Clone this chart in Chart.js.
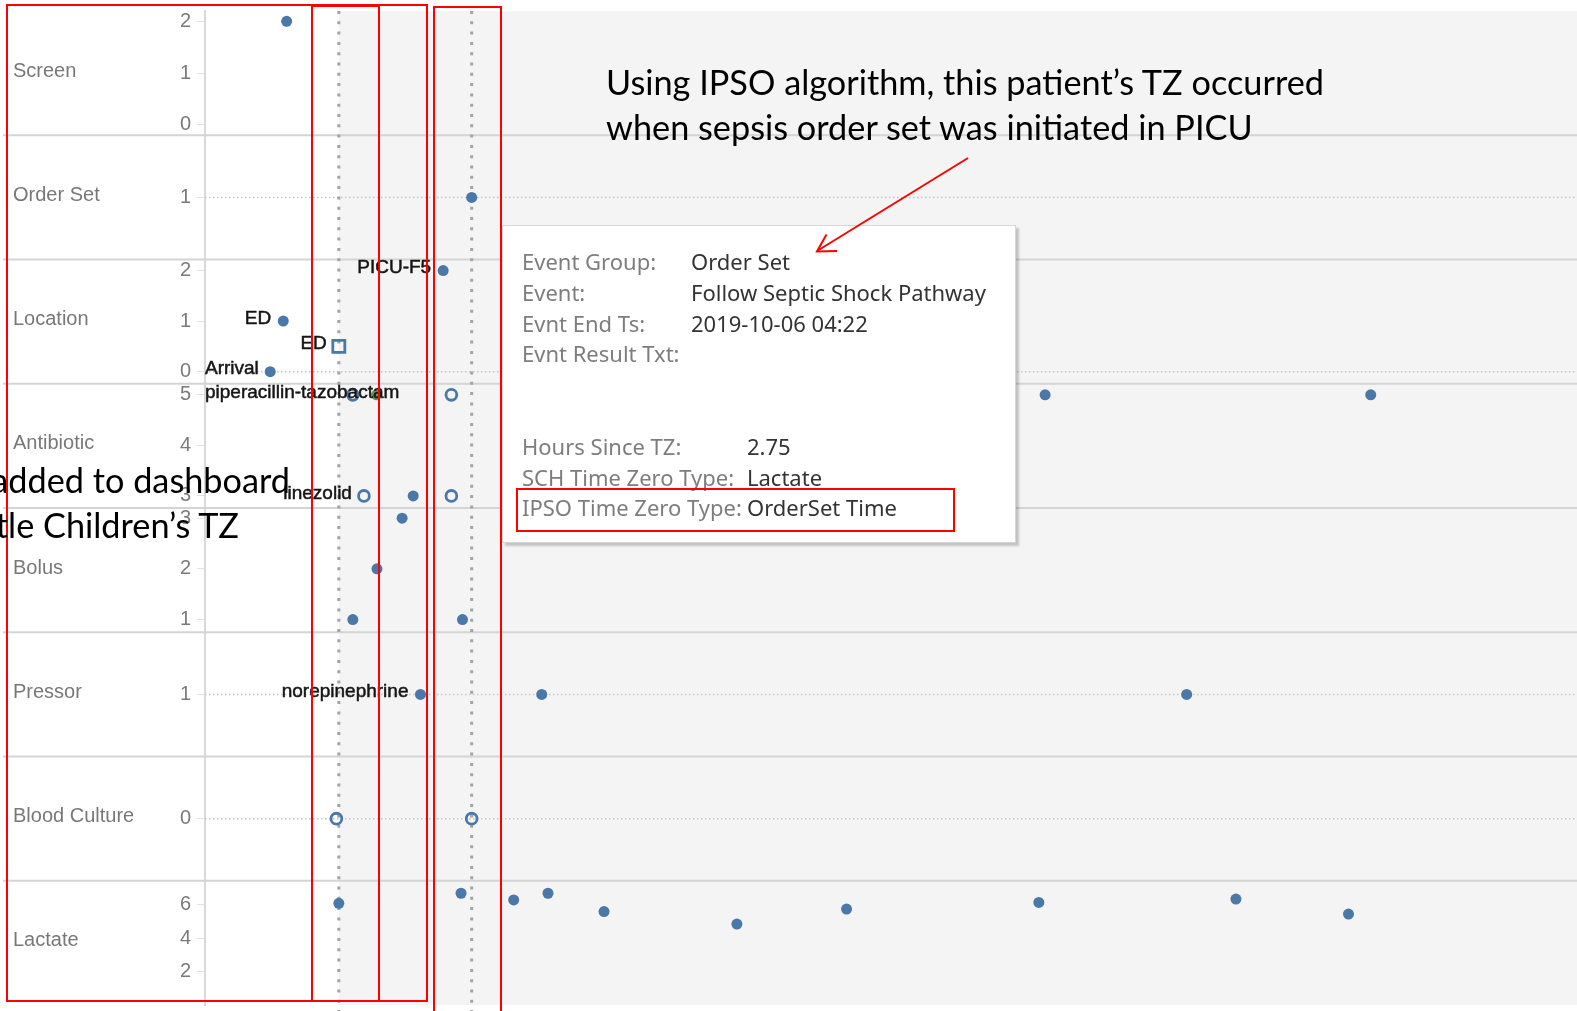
<!DOCTYPE html>
<html>
<head>
<meta charset="utf-8">
<title>Patient event timeline</title>
<script src="https://cdn.jsdelivr.net/npm/chart.js@4.4.1/dist/chart.umd.min.js"></script>
<style>
  html, body { margin: 0; padding: 0; background: #fff; overflow: hidden; }
  #wrap { position: relative; width: 1577px; height: 1011px; }
  #chart { position: absolute; left: 0; top: 0; }
  .tip { position: absolute; left: 502px; top: 225px; width: 512px; height: 316px; background: #fff;
         border: 1px solid #d6d6d6; box-shadow: 3px 3px 2px rgba(0, 0, 0, 0.2);
         font-family: "Noto Sans", sans-serif; font-size: 22px; }
  .tip div { position: absolute; white-space: nowrap; line-height: 30px; }
  .tip .k { color: #7d7d7d; left: 19px; }
  .tip .v { color: #333; }
  #notes { position: absolute; left: 0; top: 0; pointer-events: none; }
</style>
</head>
<body>
<div id="wrap">
  <canvas id="chart" width="1577" height="1011"></canvas>

  <div class="tip">
    <div class="k" style="top:20px">Event Group:</div>
    <div class="v" style="top:20px;left:188px">Order Set</div>
    <div class="k" style="top:51px">Event:</div>
    <div class="v" style="top:51px;left:188px">Follow Septic Shock Pathway</div>
    <div class="k" style="top:82px">Evnt End Ts:</div>
    <div class="v" style="top:82px;left:188px">2019-10-06 04:22</div>
    <div class="k" style="top:112px">Evnt Result Txt:</div>
    <div class="k" style="top:205px">Hours Since TZ:</div>
    <div class="v" style="top:205px;left:244px">2.75</div>
    <div class="k" style="top:236px">SCH Time Zero Type:</div>
    <div class="v" style="top:236px;left:244px">Lactate</div>
    <div class="k" style="top:266px">IPSO Time Zero Type:</div>
    <div class="v" style="top:266px;left:244px">OrderSet Time</div>
  </div>

  <svg id="notes" width="1577" height="1011">
    <g fill="none" stroke="#ff0000" stroke-width="2">
      <rect x="7" y="5" width="420" height="996"/>
      <rect x="312" y="6" width="67" height="995"/>
      <rect x="434" y="7" width="67" height="1012"/>
      <rect x="517" y="489" width="437" height="42"/>
      <line x1="968" y1="158" x2="817" y2="251"/>
      <polyline points="837,251 817,251.5 826.5,234.5"/>
    </g>
    <g font-family="Lato, sans-serif" font-size="34" fill="#000">
      <text id="note1" x="606" y="95">Using IPSO algorithm, this patient’s TZ occurred</text>
      <text id="note2" x="606" y="140">when sepsis order set was initiated in PICU</text>
      <text id="note3" x="290" y="493" text-anchor="end">added to dashboard</text>
      <text id="note4" x="239" y="538" text-anchor="end">tle Children’s TZ</text>
    </g>
  </svg>
</div>

<script>
// Filas del tablero y ejes de cada fila
const rowNames = ['Screen', 'Order Set', 'Location', 'Antibiotic', 'Bolus', 'Pressor', 'Blood Culture', 'Lactate'];
const rowTicks = [[0, 1, 2], [1], [0, 1, 2], [3, 4, 5], [1, 2, 3], [1], [0], [2, 4, 6]];
const rowMin = [-0.2, 0.5, -0.24, 2.76, 0.75, 0.5, -0.5, 0];
const rowMax = [2.2, 1.5, 2.22, 5.22, 3.2, 1.5, 0.5, 7.45];
const refLineRows = ['Order Set', 'Location', 'Pressor', 'Blood Culture'];
const refLineValues = [1, 0, 1, 0];

// Eje x: horas desde el TZ de SCH
const hoursMin = -2.77;
const hoursMax = 25.63;
const schTimeZero = 0;
const ipsoTimeZero = 2.75;

// Eventos (horas, valor, etiqueta)
const screenHours = [-1.08];
const screenValues = [2];
const orderSetHours = [2.75];
const orderSetValues = [1];
const locationHours = [-1.42, -1.15, 2.16];
const locationValues = [0, 1, 2];
const locationLabels = ['Arrival', 'ED', 'PICU-F5'];
const locationBoxHours = [0];
const locationBoxValues = [0.5];
const locationBoxLabels = ['ED'];
const antibioticHours = [1.54, 14.62, 21.36];
const antibioticValues = [3, 5, 5];
const antibioticOpenHours = [0.29, 2.33, 0.52, 2.33];
const antibioticOpenValues = [5, 5, 3, 3];
const antibioticOpenLabels = ['piperacillin-tazobactam', '', 'linezolid', ''];
const antibioticGreenHours = [0.78];
const antibioticGreenValues = [5];
const bolusHours = [0.29, 0.79, 1.31, 2.56];
const bolusValues = [1, 2, 3, 1];
const pressorHours = [1.69, 4.2, 17.55];
const pressorValues = [1, 1, 1];
const pressorLabels = ['norepinephrine', '', ''];
const cultureHours = [-0.05, 2.75];
const cultureValues = [0, 0];
const lactateHours = [0, 2.53, 3.62, 4.33, 5.49, 8.24, 10.51, 14.49, 18.57, 20.9];
const lactateValues = [6.1, 6.7, 6.3, 6.7, 5.6, 4.85, 5.75, 6.15, 6.35, 5.45];

const blue = '#4a78a8';
const axisFont = '"Liberation Sans", Arial, sans-serif';

const pts = (xs, ys) => xs.map((x, i) => ({ x: x, y: ys[i] }));

const dots = (hours, values, row, extra) => Object.assign({
    data: pts(hours, values),
    yAxisID: 'y' + rowNames.indexOf(row),
    pointStyle: 'circle',
    pointRadius: 5.5,
    pointBackgroundColor: blue,
    pointBorderColor: blue,
    pointBorderWidth: 0
}, extra || {});

const open = { pointBackgroundColor: 'rgba(0,0,0,0)', pointBorderWidth: 2.8, pointRadius: 5.4 };

const datasets = [
    dots(screenHours, screenValues, 'Screen'),
    dots(orderSetHours, orderSetValues, 'Order Set'),
    dots(locationHours, locationValues, 'Location', { pointLabels: locationLabels }),
    dots(locationBoxHours, locationBoxValues, 'Location', Object.assign({}, open, { pointStyle: 'rect', pointRadius: 8.5, pointLabels: locationBoxLabels })),
    dots(antibioticOpenHours, antibioticOpenValues, 'Antibiotic', Object.assign({}, open, { pointLabels: antibioticOpenLabels })),
    dots(antibioticGreenHours, antibioticGreenValues, 'Antibiotic', { pointBackgroundColor: '#5b9a4f', pointBorderColor: '#5b9a4f' }),
    dots(antibioticHours, antibioticValues, 'Antibiotic'),
    dots(bolusHours, bolusValues, 'Bolus'),
    dots(pressorHours, pressorValues, 'Pressor', { pointLabels: pressorLabels }),
    dots(cultureHours, cultureValues, 'Blood Culture', open),
    dots(lactateHours, lactateValues, 'Lactate')
];

// Un eje y apilado por fila (el último añadido queda arriba)
const scales = { x: { type: 'linear', min: hoursMin, max: hoursMax, display: false } };
for (let i = rowNames.length - 1; i >= 0; i--) {
    scales['y' + i] = {
        type: 'linear',
        position: 'left',
        stack: 'rows',
        stackWeight: 1,
        min: rowMin[i],
        max: rowMax[i],
        afterBuildTicks: s => { s.ticks = rowTicks[i].map(v => ({ value: v })); },
        afterFit: s => {
            s.width = 205;
            s.paddingTop = 0;
            s.paddingBottom = 0;
        },
        grid: { drawOnChartArea: false, drawTicks: true, tickLength: 8, color: '#e2e2e2' },
        border: { color: '#d9d9d9', width: 2 },
        ticks: { autoSkip: false, padding: 6, color: '#7a7a7a', font: { family: axisFont, size: 20 } }
    };
}

const dotted = (ctx, x1, y1, x2, y2, width, dash, color) => {
    ctx.save();
    ctx.strokeStyle = color;
    ctx.lineWidth = width;
    ctx.setLineDash(dash);
    ctx.beginPath();
    ctx.moveTo(x1, y1);
    ctx.lineTo(x2, y2);
    ctx.stroke();
    ctx.restore();
};

const backdrop = {
    id: 'backdrop',
    beforeDraw(chart) {
        const { ctx, chartArea, scales } = chart;
        ctx.save();
        ctx.fillStyle = '#fff';
        ctx.fillRect(0, 0, chart.width, chart.height);
        const x0 = scales.x.getPixelForValue(schTimeZero);
        ctx.fillStyle = '#f4f4f4';
        ctx.fillRect(x0, chartArea.top, chartArea.right - x0, chartArea.bottom - chartArea.top);
        ctx.restore();
    },
    beforeDatasetsDraw(chart) {
        const { ctx, chartArea, scales } = chart;
        // separadores de filas
        ctx.save();
        ctx.strokeStyle = '#d4d4d4';
        ctx.lineWidth = 2;
        for (let i = 0; i < rowNames.length - 1; i++) {
            const y = scales['y' + i].bottom;
            ctx.beginPath();
            ctx.moveTo(3, y);
            ctx.lineTo(chart.width, y);
            ctx.stroke();
        }
        ctx.restore();
        // líneas de referencia punteadas
        refLineRows.forEach((row, k) => {
            const y = scales['y' + rowNames.indexOf(row)].getPixelForValue(refLineValues[k]);
            dotted(ctx, chartArea.left, y, chartArea.right, y, 1.5, [1.5, 2.5], '#c4c4c4');
        });
        // líneas de TZ (SCH e IPSO)
        [schTimeZero, ipsoTimeZero].forEach(h => {
            const x = scales.x.getPixelForValue(h);
            dotted(ctx, x, chartArea.top, x, chart.height, 3, [3, 7.3], '#a4a4a4');
        });
        // nombres de fila
        ctx.save();
        ctx.fillStyle = '#787878';
        ctx.font = '20px ' + axisFont;
        ctx.textAlign = 'left';
        ctx.textBaseline = 'middle';
        rowNames.forEach((name, i) => {
            const s = scales['y' + i];
            ctx.fillText(name, 13, (s.top + s.bottom) / 2 - 2);
        });
        ctx.restore();
    }
};

const markLabels = {
    id: 'markLabels',
    afterDatasetsDraw(chart) {
        const { ctx, chartArea } = chart;
        ctx.save();
        ctx.fillStyle = '#151515';
        ctx.strokeStyle = '#151515';
        ctx.lineWidth = 0.5;
        ctx.font = '19px ' + axisFont;
        ctx.textBaseline = 'middle';
        chart.data.datasets.forEach((ds, di) => {
            if (!ds.pointLabels) return;
            chart.getDatasetMeta(di).data.forEach((pt, i) => {
                const text = ds.pointLabels[i];
                if (!text) return;
                const w = ctx.measureText(text).width;
                let x = pt.x - 12;
                ctx.textAlign = 'right';
                if (x - w < chartArea.left) {
                    x = chartArea.left;
                    ctx.textAlign = 'left';
                }
                ctx.fillText(text, x, pt.y - 2.5);
                ctx.strokeText(text, x, pt.y - 2.5);
            });
        });
        ctx.restore();
    }
};

new Chart(document.getElementById('chart'), {
    type: 'scatter',
    data: { datasets: datasets },
    options: {
        responsive: false,
        animation: false,
        events: [],
        layout: { autoPadding: false, padding: { top: 11, bottom: 6, left: 0, right: 0 } },
        plugins: { legend: { display: false }, tooltip: { enabled: false } },
        scales: scales
    },
    plugins: [backdrop, markLabels]
});

// Ajuste horizontal de los textos de la diapositiva
const note1 = document.getElementById('note1');
const ratio = 718 / note1.getComputedTextLength();
['note1', 'note2', 'note3', 'note4'].forEach(id => {
    const el = document.getElementById(id);
    el.setAttribute('textLength', (el.getComputedTextLength() * ratio).toFixed(1));
    el.setAttribute('lengthAdjust', 'spacingAndGlyphs');
});
</script>
</body>
</html>
